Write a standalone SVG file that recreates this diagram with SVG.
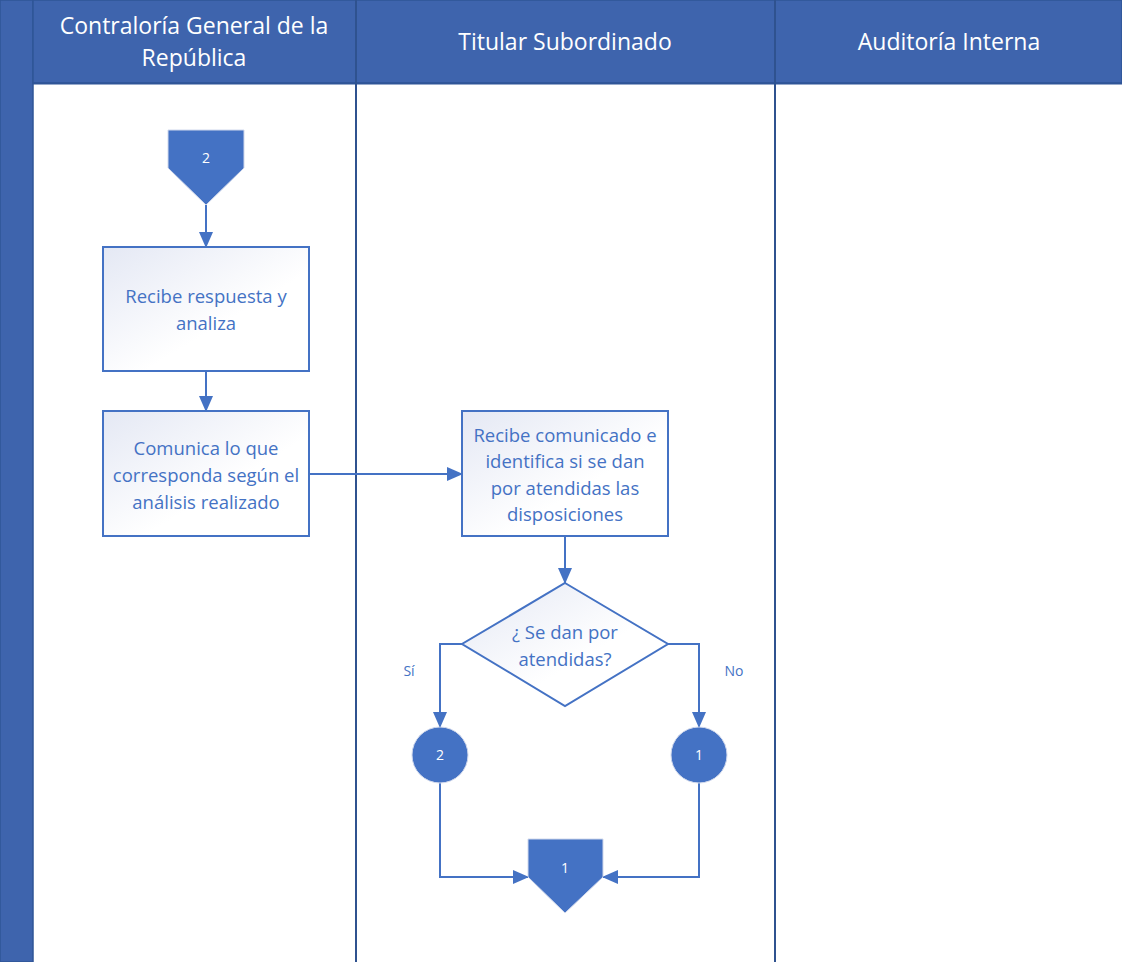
<svg xmlns="http://www.w3.org/2000/svg" width="1122" height="962" viewBox="0 0 1122 962">
<defs>
<linearGradient id="g" x1="0" y1="0" x2="1" y2="1">
<stop offset="0" stop-color="#E4E8F4"/>
<stop offset="0.6" stop-color="#FFFFFF"/>
</linearGradient>
<marker id="b" markerWidth="16" markerHeight="14" refX="15" refY="7" orient="auto" markerUnits="userSpaceOnUse">
<path d="M0,0 L16,7 L0,14 Z" fill="#4472C4"/>
</marker>
</defs>
<style>
.hdr{fill:#FFFFFF;font-family:"Open Sans","Liberation Sans",sans-serif;font-size:23px;text-anchor:middle}
.box{fill:url(#g);stroke:#4472C4;stroke-width:2}
.t{fill:#4472C4;font-family:"Open Sans","Liberation Sans",sans-serif;font-size:18.5px;text-anchor:middle}
.w{fill:#FFFFFF;font-family:"Open Sans","Liberation Sans",sans-serif;font-size:14px;text-anchor:middle}
.lbl{fill:#4472C4;font-family:"Open Sans","Liberation Sans",sans-serif;font-size:14px;text-anchor:middle}
.c{fill:none;stroke:#4472C4;stroke-width:2}
.sym{fill:#4472C4;stroke:#D0D8EC;stroke-width:1}
</style>
<rect x="0" y="0" width="1122" height="962" fill="#FFFFFF"/>
<g id="pool">
<rect x="0" y="0" width="33" height="962" fill="#3E64AD" stroke="#2F5597" stroke-width="1.5"/>
<rect x="33" y="0" width="1089" height="83" fill="#3E64AD" stroke="#2F5597" stroke-width="1.5"/>
<line x1="33" y1="83.5" x2="1122" y2="83.5" stroke="#2F5597" stroke-width="2"/>
<line x1="356" y1="0" x2="356" y2="962" stroke="#2F528F" stroke-width="2"/>
<line x1="775" y1="0" x2="775" y2="962" stroke="#2F528F" stroke-width="2"/>
<text class="hdr" x="194" y="34">Contraloría General de la</text>
<text class="hdr" x="194" y="66">República</text>
<text class="hdr" x="565" y="50">Titular Subordinado</text>
<text class="hdr" x="949" y="50">Auditoría Interna</text>
</g>
<g id="connectors">
<line class="c" x1="206" y1="205" x2="206" y2="247" marker-end="url(#b)"/>
<line class="c" x1="206" y1="371" x2="206" y2="411" marker-end="url(#b)"/>
<line class="c" x1="309" y1="474" x2="462" y2="474" marker-end="url(#b)"/>
<line class="c" x1="565" y1="536" x2="565" y2="583" marker-end="url(#b)"/>
<polyline class="c" points="462,644 440,644 440,727" marker-end="url(#b)"/>
<polyline class="c" points="668,644 699,644 699,727" marker-end="url(#b)"/>
<polyline class="c" points="440,783 440,877 528,877" marker-end="url(#b)"/>
<polyline class="c" points="699,783 699,877 603,877" marker-end="url(#b)"/>
<text class="lbl" x="409" y="676">Sí</text>
<text class="lbl" x="734" y="676">No</text>
</g>
<g id="offpage2">
<path class="sym" d="M168,130 H244 V168 L206,205 L168,168 Z"/>
<text class="w" x="206" y="163">2</text>
</g>
<g id="recibe-respuesta">
<rect class="box" x="103" y="247" width="206" height="124"/>
<text class="t" x="206" y="303">Recibe respuesta y</text>
<text class="t" x="206" y="330">analiza</text>
</g>
<g id="comunica">
<rect class="box" x="103" y="411" width="206" height="125"/>
<text class="t" x="206" y="455">Comunica lo que</text>
<text class="t" x="206" y="482">corresponda según el</text>
<text class="t" x="206" y="509">análisis realizado</text>
</g>
<g id="recibe-comunicado">
<rect class="box" x="462" y="411" width="206" height="125"/>
<text class="t" x="565" y="442">Recibe comunicado e</text>
<text class="t" x="565" y="468">identifica si se dan</text>
<text class="t" x="565" y="495">por atendidas las</text>
<text class="t" x="565" y="521">disposiciones</text>
</g>
<g id="decision">
<polygon class="box" points="565,583 668,644 565,706 462,644"/>
<text class="t" x="565" y="639">¿ Se dan por</text>
<text class="t" x="565" y="666">atendidas?</text>
</g>
<g id="circle2">
<circle class="sym" cx="440" cy="755" r="28"/>
<text class="w" x="440" y="760">2</text>
</g>
<g id="circle1">
<circle class="sym" cx="699" cy="755" r="28"/>
<text class="w" x="699" y="760">1</text>
</g>
<g id="offpage1">
<path class="sym" d="M528,839 H603 V877 L565,913 L528,877 Z"/>
<text class="w" x="565" y="873">1</text>
</g>
</svg>
